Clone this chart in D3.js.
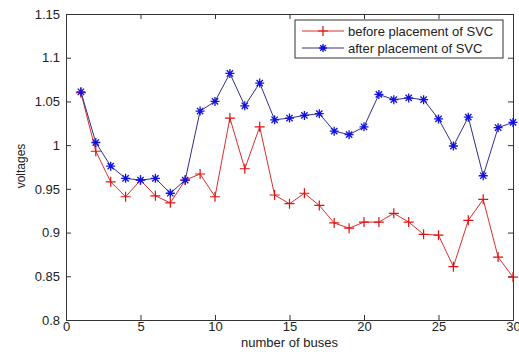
<!DOCTYPE html>
<html>
<head>
<meta charset="utf-8">
<script src="https://cdn.jsdelivr.net/npm/d3@7"></script>
<style>
  body { margin: 0; background: #fff; }
  text { font-family: "Liberation Sans", Arial, sans-serif; fill: #222; }
</style>
</head>
<body>
<div id="chart"></div>
<script>
// bus numbers and voltages
const buses = d3.range(1, 31);
const before = [1.060, 0.993, 0.958, 0.941, 0.960, 0.942, 0.934, 0.960, 0.967, 0.941,
                1.031, 0.973, 1.021, 0.943, 0.933, 0.945, 0.931, 0.911, 0.905, 0.912,
                0.912, 0.922, 0.912, 0.898, 0.897, 0.861, 0.914, 0.938, 0.872, 0.849];
const after  = [1.061, 1.003, 0.976, 0.962, 0.960, 0.962, 0.945, 0.960, 1.039, 1.050,
                1.082, 1.045, 1.071, 1.029, 1.031, 1.034, 1.036, 1.016, 1.012, 1.021,
                1.058, 1.052, 1.054, 1.052, 1.030, 0.999, 1.032, 0.965, 1.020, 1.026];
const xTicks = [0, 5, 10, 15, 20, 25, 30];
const yTicks = [0.8, 0.85, 0.9, 0.95, 1, 1.05, 1.1, 1.15];
const seriesNames = ["before placement of SVC", "after placement of SVC"];

const width = 519, height = 354;
const margin = { top: 14, right: 6, bottom: 34, left: 66 };
const w = width - margin.left - margin.right;
const h = height - margin.top - margin.bottom;

const svg = d3.select("#chart").append("svg")
    .attr("width", width)
    .attr("height", height);

const g = svg.append("g")
    .attr("transform", `translate(${margin.left},${margin.top})`);

const x = d3.scaleLinear().domain([0, 30]).range([0, w]);
const y = d3.scaleLinear().domain([0.8, 1.15]).range([h, 0]);

// axes with inward ticks, MATLAB style
const fmt = d => d3.format("")(+d.toFixed(2));
g.append("g")
    .attr("transform", `translate(0,${h})`)
    .call(d3.axisBottom(x).tickValues(xTicks).tickSize(-5).tickPadding(2).tickFormat(fmt));
g.append("g")
    .call(d3.axisTop(x).tickValues(xTicks).tickSize(-5).tickFormat(""));
g.append("g")
    .call(d3.axisLeft(y).tickValues(yTicks).tickSize(-5).tickPadding(6).tickFormat(fmt));
g.append("g")
    .attr("transform", `translate(${w},0)`)
    .call(d3.axisRight(y).tickValues(yTicks).tickSize(-5).tickFormat(""));

g.selectAll(".domain").attr("stroke", "#333");
g.selectAll(".tick line").attr("stroke", "#333");
g.selectAll(".tick text").style("font-size", "13px").style("fill", "#222");

const line = d3.line()
    .x((d, i) => x(buses[i]))
    .y(d => y(d));

function plusMark(sel, s) {
    sel.append("path").attr("d", `M${-s},0H${s}M0,${-s}V${s}`)
        .attr("stroke", "#e01010").attr("stroke-width", 1.2).attr("fill", "none");
}
function starMark(sel, s) {
    const d = s * 0.7;
    sel.append("path")
        .attr("d", `M${-s},0H${s}M0,${-s}V${s}M${-d},${-d}L${d},${d}M${-d},${d}L${d},${-d}`)
        .attr("stroke", "#1010e0").attr("stroke-width", 1.3).attr("fill", "none");
}

// before: red line with plus markers
g.append("path")
    .datum(before)
    .attr("fill", "none")
    .attr("stroke", "#d83030")
    .attr("stroke-width", 1)
    .attr("d", line);

g.selectAll(".pt-before")
    .data(before)
    .enter()
    .append("g")
    .attr("class", "pt-before")
    .attr("transform", (d, i) => `translate(${x(buses[i])},${y(d)})`)
    .each(function() { plusMark(d3.select(this), 5); });

// after: blue line with star markers
g.append("path")
    .datum(after)
    .attr("fill", "none")
    .attr("stroke", "#30308a")
    .attr("stroke-width", 1)
    .attr("d", line);

g.selectAll(".pt-after")
    .data(after)
    .enter()
    .append("g")
    .attr("class", "pt-after")
    .attr("transform", (d, i) => `translate(${x(buses[i])},${y(d)})`)
    .each(function() { starMark(d3.select(this), 4.5); });

// axis labels
svg.append("text")
    .attr("x", margin.left + w / 2)
    .attr("y", 347)
    .attr("text-anchor", "middle")
    .style("font-size", "13px")
    .text("number of buses");

svg.append("text")
    .attr("transform", "translate(25,166) rotate(-90)")
    .attr("text-anchor", "middle")
    .style("font-size", "12px")
    .text("voltages");

// legend
const legend = svg.append("g").attr("transform", "translate(295,20)");
legend.append("rect")
    .attr("width", 208)
    .attr("height", 38)
    .attr("fill", "#fff")
    .attr("stroke", "#333");

const colors = ["#d83030", "#30308a"];
seriesNames.forEach((name, i) => {
    const ly = 11 + i * 17;
    legend.append("line")
        .attr("x1", 7).attr("x2", 49)
        .attr("y1", ly).attr("y2", ly)
        .attr("stroke", colors[i]);
    const m = legend.append("g").attr("transform", `translate(28,${ly})`);
    if (i === 0) plusMark(m, 5); else starMark(m, 4);
    legend.append("text")
        .attr("x", 53)
        .attr("y", ly + 4.5)
        .style("font-size", "13px")
        .text(name);
});
</script>
</body>
</html>
